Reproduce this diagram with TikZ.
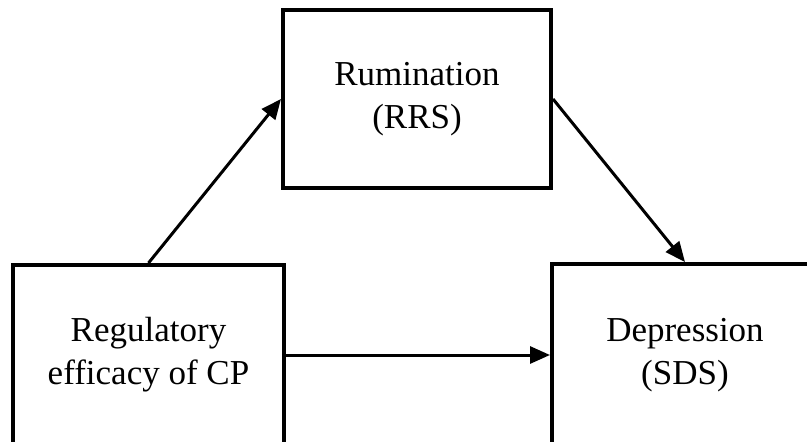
\documentclass[tikz,border=0pt]{standalone}
\usepackage{fontspec}
\setmainfont{Liberation Serif}
\usetikzlibrary{arrows.meta, positioning}

\tikzset{
    varbox/.style={draw, line width=4pt, rectangle, align=center, inner sep=0pt,
        font=\fontsize{35}{43}\selectfont},
    path-arrow/.style={-{Triangle[length=20pt,width=17pt]}, line width=3pt}
}

\begin{document}
\begin{tikzpicture}[x=1pt, y=-1pt]
    \useasboundingbox (0,0) rectangle (807,442);
    \node[varbox, minimum width=271pt, minimum height=180pt] (regulatory) at (148.5,355) {Regulatory\\ efficacy of CP};
\node[varbox, minimum width=268pt, minimum height=178pt] (rumination) at (417,99) {Rumination\\ (RRS)};
\node[varbox, minimum width=266pt, minimum height=182pt] (depression) at (685,355) {Depression\\ (SDS)};
\draw[path-arrow] (regulatory.north) -- (rumination.west);
\draw[path-arrow] (rumination.east) -- (depression.north);
\draw[path-arrow] (regulatory.east) -- (depression.west);
\end{tikzpicture}
\end{document}
